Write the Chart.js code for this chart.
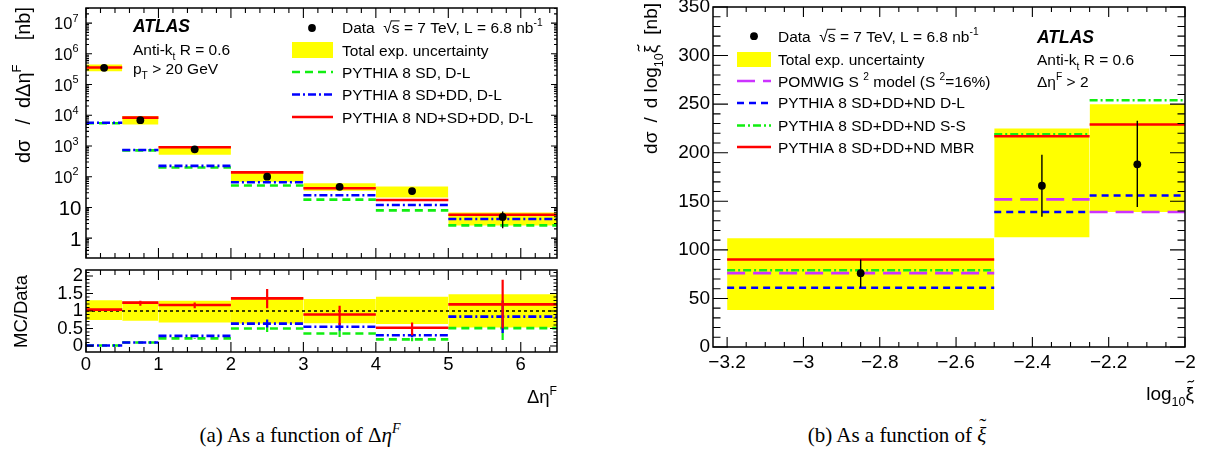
<!DOCTYPE html>
<html><head><meta charset="utf-8">
<script src="https://cdn.jsdelivr.net/npm/chart.js@4.4.1/dist/chart.umd.min.js"></script>
<style>
html,body{margin:0;padding:0;background:#fff}
body{width:1207px;height:458px;position:relative;overflow:hidden}
canvas{position:absolute}
.cap{position:absolute;top:423px;font-family:"Liberation Serif","DejaVu Serif",serif;font-size:21px;line-height:24px;white-space:nowrap;transform:translateX(-50%);color:#000}
.cap sup{font-size:14px;vertical-align:0;position:relative;top:-9px}
.tw{position:relative;display:inline-block}
.tl{position:absolute;left:2px;top:-9px;font-style:normal}
</style></head><body>
<canvas id="cA" width="600" height="262" style="left:0;top:0"></canvas>
<canvas id="cB" width="600" height="165" style="left:0;top:255px"></canvas>
<canvas id="cC" width="607" height="420" style="left:600px;top:-10px"></canvas>
<div class="cap" style="left:300px">(a) As a function of Δ<i>η</i><sup><i>F</i></sup></div>
<div class="cap" style="left:897px">(b) As a function of <span class="tw"><i>ξ</i><span class="tl">˜</span></span></div>
<script>
// ---------------- DATA ----------------
// (a) dσ/dΔη^F vs Δη^F
const etaBinEdges   = [0, 0.5, 1, 2, 3, 4, 5, 6.5];
const etaBinCenters = [0.25, 0.75, 1.5, 2.5, 3.5, 4.5, 5.75];
const etaData       = [3.5e5, 6.9e3, 780, 100, 47, 34, 4.9];
const etaDataLo     = [3.4e5, 6.7e3, 750, 88, 41, 29, 2.1];
const etaDataHi     = [3.6e5, 7.1e3, 810, 114, 54, 40, 7.4];
const etaUncLo      = [2.7e5, 5.0e3, 515, 68, 35, 21, 2.6];
const etaUncHi      = [4.5e5, 9.5e3, 1000, 140, 61, 48, 6.8];
const etaPythiaSD       = [5.5e3, 720, 200, 52, 18, 8, 2.6];
const etaPythiaSDDD     = [5.7e3, 740, 225, 66, 25, 12, 4.2];
const etaPythiaNDSDDD   = [3.6e5, 8.4e3, 910, 138, 42, 17.5, 5.8];
// ratio MC/Data
const ratioUncLo   = [0.74, 0.72, 0.67, 0.64, 0.65, 0.63, 0.53];
const ratioUncHi   = [1.31, 1.27, 1.29, 1.37, 1.34, 1.41, 1.48];
const ratioSD      = [0.015, 0.10, 0.22, 0.50, 0.36, 0.19, 0.51];
const ratioSDLo    = [0.015, 0.10, 0.21, 0.40, 0.26, 0.14, 0.17];
const ratioSDHi    = [0.015, 0.10, 0.23, 0.60, 0.46, 0.24, 0.85];
const ratioSDDD    = [0.016, 0.10, 0.29, 0.64, 0.55, 0.31, 0.84];
const ratioSDDDLo  = [0.016, 0.10, 0.28, 0.53, 0.44, 0.25, 0.37];
const ratioSDDDHi  = [0.016, 0.10, 0.30, 0.76, 0.66, 0.37, 1.30];
const ratioND      = [1.04, 1.24, 1.17, 1.36, 0.90, 0.52, 1.19];
const ratioNDLo    = [1.02, 1.15, 1.08, 1.08, 0.60, 0.31, 0.51];
const ratioNDHi    = [1.06, 1.29, 1.24, 1.63, 1.15, 0.67, 1.89];
const ratioRefLine = [1, 1];
// (b) dσ/dlog10ξ vs log10ξ
const xiBinEdges   = [-3.2, -2.5, -2.25, -2.0];
const xiBinCenters = [-2.85, -2.375, -2.125];
const xiData       = [76, 166, 188];
const xiDataLo     = [61, 134, 144];
const xiDataHi     = [90, 198, 233];
const xiUncLo      = [38, 113, 139];
const xiUncHi      = [112, 225, 250];
const xiPomwig     = [76, 152, 139];
const xiPythiaDL   = [61, 139, 156];
const xiPythiaSS   = [79, 219, 254];
const xiPythiaMBR  = [90, 217, 229];
// tick labels
const etaTickValues   = [0, 1, 2, 3, 4, 5, 6];
const etaTickLabels   = ['0', '1', '2', '3', '4', '5', '6'];
const logTickValues   = [1, 10, 1e2, 1e3, 1e4, 1e5, 1e6, 1e7];
const logTickLabels   = [['1', ''], ['10', ''], ['10', '2'], ['10', '3'], ['10', '4'], ['10', '5'], ['10', '6'], ['10', '7']];
const ratioTickValues = [0, 0.5, 1, 1.5, 2];
const ratioTickLabels = ['0', '0.5', '1', '1.5', '2'];
const xiTickValues    = [-3.2, -3, -2.8, -2.6, -2.4, -2.2, -2];
const xiTickLabels    = ['\u22123.2', '\u22123', '\u22122.8', '\u22122.6', '\u22122.4', '\u22122.2', '\u22122'];
const xiYTickValues   = [0, 50, 100, 150, 200, 250, 300, 350];
const xiYTickLabels   = ['0', '50', '100', '150', '200', '250', '300', '350'];

// ---------------- STYLES ----------------
const FAM = '"Liberation Sans", Arimo, Arial, Helvetica, sans-serif';
const YELLOW = '#ffff00';
const S_RED   = {color: '#ff0000', dash: [], width: 2.6};
const S_GREEN_DASH = {color: '#11ee11', dash: [8, 5], width: 2.6};
const S_BLUE_DDOT  = {color: '#0000ff', dash: [8, 3, 2, 3], width: 2.6};
const S_BLUE_DASH  = {color: '#0000ff', dash: [7, 5], width: 2.6};
const S_GREEN_DDOT = {color: '#11ee11', dash: [8, 3, 2, 3], width: 2.6};
const S_MAG   = {color: '#cc33ff', dash: [18, 8], width: 2.6};

function fnt(size, style) { return (style || 'normal') + ' ' + size + 'px ' + FAM; }

// ---------------- dataset builders ----------------
function hSegs(edges, vals) {
  const p = [];
  vals.forEach((v, i) => { p.push({x: edges[i], y: v}, {x: edges[i + 1], y: v}, {x: edges[i + 1], y: null}); });
  return p;
}
function vBars(xs, lo, hi) {
  const p = [];
  xs.forEach((x, i) => { p.push({x: x, y: lo[i]}, {x: x, y: hi[i]}, {x: x, y: null}); });
  return p;
}
function lineDS(data, st, order) {
  return {data: data, borderColor: st.color, borderDash: st.dash, borderWidth: st.width, pointRadius: 0,
          fill: false, order: order, spanGaps: false, borderCapStyle: 'butt'};
}
function addBand(list, edges, lo, hi, color) {
  for (let i = 0; i < lo.length; i++) {
    const idx = list.length;
    list.push({data: [{x: edges[i], y: lo[i]}, {x: edges[i + 1], y: lo[i]}], borderColor: 'rgba(0,0,0,0)',
               borderWidth: 1, pointRadius: 0, fill: false, order: 20});
    list.push({data: [{x: edges[i], y: hi[i]}, {x: edges[i + 1], y: hi[i]}], borderColor: 'rgba(0,0,0,0)',
               borderWidth: 1, pointRadius: 0, fill: {target: idx}, backgroundColor: color, order: 20});
  }
}
function pointsDS(xs, ys, order) {
  return {data: xs.map((x, i) => ({x: x, y: ys[i]})), showLine: false, pointRadius: 3.9,
          pointBackgroundColor: '#000', pointBorderColor: '#000', pointBorderWidth: 0, order: order};
}

// ---------------- drawing helpers ----------------
function drawRich(ctx, parts, x, y, size, align, style) {
  const items = parts.map(p => {
    const s = (p.sup || p.sub) ? size * 0.66 : size;
    const st = p.style || style || 'normal';
    ctx.font = fnt(s, st);
    return {p: p, s: s, st: st, tw: ctx.measureText(p.t).width, w: ctx.measureText(p.t).width + (p.gap || 0)};
  });
  const total = items.reduce((a, it) => a + it.w, 0);
  let cx = align === 'right' ? x - total : align === 'center' ? x - total / 2 : x;
  ctx.fillStyle = '#000'; ctx.strokeStyle = '#000';
  ctx.textAlign = 'left'; ctx.textBaseline = 'alphabetic';
  for (const it of items) {
    ctx.font = fnt(it.s, it.st);
    const dy = it.p.sup ? -size * 0.45 : it.p.sub ? size * 0.3 : 0;
    ctx.fillText(it.p.t, cx, y + dy);
    if (it.p.over) {
      ctx.lineWidth = 1; ctx.setLineDash([]);
      ctx.beginPath(); ctx.moveTo(cx - 1, y - size * 0.8); ctx.lineTo(cx + it.tw, y - size * 0.8); ctx.stroke();
    }
    if (it.p.tilde) {
      const tw = it.tw * 0.75, tx = cx + (it.tw - tw) / 2 + 1, ty = y - size * 0.98;
      ctx.lineWidth = 1.1; ctx.setLineDash([]);
      ctx.beginPath(); ctx.moveTo(tx, ty + 1.2);
      ctx.bezierCurveTo(tx + tw * 0.3, ty - 2.6, tx + tw * 0.6, ty + 3.2, tx + tw, ty - 1.2); ctx.stroke();
    }
    cx += it.w;
  }
}
function sample(ctx, x1, x2, y, st) {
  ctx.save(); ctx.strokeStyle = st.color; ctx.lineWidth = st.width; ctx.setLineDash(st.dash); ctx.lineCap = 'butt';
  ctx.beginPath(); ctx.moveTo(x1, y); ctx.lineTo(x2, y); ctx.stroke(); ctx.restore();
}
function frameTicks(chart, xt, yt) {
  const ctx = chart.ctx, a = chart.chartArea, sx = chart.scales.x, sy = chart.scales.y;
  ctx.save(); ctx.strokeStyle = '#000'; ctx.lineWidth = 1.1; ctx.setLineDash([]);
  ctx.beginPath();
  for (const t of xt) {
    const px = sx.getPixelForValue(t[0]);
    if (px < a.left - 0.6 || px > a.right + 0.6) continue;
    ctx.moveTo(px, a.bottom); ctx.lineTo(px, a.bottom - t[1]);
    ctx.moveTo(px, a.top); ctx.lineTo(px, a.top + t[1]);
  }
  for (const t of yt) {
    const py = sy.getPixelForValue(t[0]);
    if (py < a.top - 0.6 || py > a.bottom + 0.6) continue;
    ctx.moveTo(a.left, py); ctx.lineTo(a.left + t[1], py);
    ctx.moveTo(a.right, py); ctx.lineTo(a.right - t[1], py);
  }
  ctx.stroke();
  ctx.lineWidth = 1.5;
  ctx.strokeRect(a.left, a.top, a.right - a.left, a.bottom - a.top);
  ctx.restore();
}
function linTicks(from, to, step, majorEvery, lmaj, lmin) {
  const out = []; const n = Math.round((to - from) / step);
  for (let i = 0; i <= n; i++) out.push([from + i * step, i % majorEvery === 0 ? lmaj : lmin]);
  return out;
}
function logTicks(d0, d1, lmaj, lmin) {
  const out = [];
  for (let d = d0; d <= d1; d++) for (let k = 1; k <= 9; k++) out.push([k * Math.pow(10, d), k === 1 ? lmaj : lmin]);
  return out;
}
const baseOpts = {responsive: false, animation: false, events: [], devicePixelRatio: 1,
  plugins: {legend: {display: false}, tooltip: {enabled: false}}};
const hiddenGrid = {display: false, drawTicks: false};

// ---------------- (a) top panel ----------------
const dsA = [];
addBand(dsA, etaBinEdges, etaUncLo, etaUncHi, YELLOW);
dsA.push(lineDS(hSegs(etaBinEdges, etaPythiaSD), S_GREEN_DASH, 4));
dsA.push(lineDS(hSegs(etaBinEdges, etaPythiaSDDD), S_BLUE_DDOT, 3));
dsA.push(lineDS(hSegs(etaBinEdges, etaPythiaNDSDDD), S_RED, 2));
dsA.push(lineDS(vBars(etaBinCenters, etaDataLo, etaDataHi), {color: '#000', dash: [], width: 1.4}, 1));
dsA.push(pointsDS(etaBinCenters, etaData, 0));

const plugA = {id: 'pA', afterDraw(chart) {
  const ctx = chart.ctx, sy = chart.scales.y;
  frameTicks(chart, linTicks(0, 6.4, 0.2, 5, 10, 5), logTicks(-1, 7, 6, 3));
  // log tick labels
  logTickValues.forEach((v, i) => {
    const py = sy.getPixelForValue(v);
    const lab = logTickLabels[i];
    if (lab[1]) drawRich(ctx, [{t: lab[0]}, {t: lab[1], sup: true}], 78.5, py + 6, 16.5, 'right');
    else drawRich(ctx, [{t: lab[0]}], 81.5, py + 7.5, 20.5, 'right');
  });
  // y title
  ctx.save(); ctx.translate(30, 7); ctx.rotate(-Math.PI / 2);
  drawRich(ctx, [{t: 'd\u03c3', gap: 15}, {t: '/', gap: 11}, {t: 'd\u0394\u03b7'}, {t: 'F', sup: true, gap: 24}, {t: '[nb]'}], 0, 0, 20, 'right');
  ctx.restore();
  // annotations
  drawRich(ctx, [{t: 'ATLAS'}], 133, 31.5, 17.5, 'left', 'italic bold');
  drawRich(ctx, [{t: 'Anti-k'}, {t: 't', sub: true}, {t: ' R = 0.6'}], 133, 55, 15.5, 'left');
  drawRich(ctx, [{t: 'p'}, {t: 'T', sub: true}, {t: ' > 20 GeV'}], 133, 74, 15.5, 'left');
  // legend
  const lx = 342, sx1 = 292, sx2 = 333;
  ctx.save(); ctx.fillStyle = '#000'; ctx.beginPath(); ctx.arc(312, 28, 3.9, 0, 2 * Math.PI); ctx.fill(); ctx.restore();
  drawRich(ctx, [{t: 'Data  \u221a'}, {t: 's', over: true}, {t: ' = 7 TeV, L = 6.8 nb'}, {t: '-1', sup: true}], lx, 33.3, 15.5, 'left');
  ctx.fillStyle = YELLOW; ctx.fillRect(sx1, 42, sx2 - sx1, 16);
  drawRich(ctx, [{t: 'Total exp. uncertainty'}], lx, 56, 15.5, 'left');
  sample(ctx, sx1, sx2, 72, S_GREEN_DASH);
  drawRich(ctx, [{t: 'PYTHIA 8 SD, D-L'}], lx, 77.5, 15.5, 'left');
  sample(ctx, sx1, sx2, 94.5, S_BLUE_DDOT);
  drawRich(ctx, [{t: 'PYTHIA 8 SD+DD, D-L'}], lx, 100, 15.5, 'left');
  sample(ctx, sx1, sx2, 117, S_RED);
  drawRich(ctx, [{t: 'PYTHIA 8 ND+SD+DD, D-L'}], lx, 122.5, 15.5, 'left');
}};

new Chart(document.getElementById('cA'), {type: 'line', data: {datasets: dsA},
  options: Object.assign({}, baseOpts, {
    layout: {padding: {left: 86, top: 8, right: 43, bottom: 2}},
    scales: {
      x: {type: 'linear', min: 0, max: 6.5, display: false},
      y: {type: 'logarithmic', min: 0.226, max: 3.1e7, display: false}
    }}), plugins: [plugA]});

// ---------------- (a) ratio panel ----------------
const dsB = [];
addBand(dsB, etaBinEdges, ratioUncLo, ratioUncHi, YELLOW);
dsB.push(lineDS([{x: 0, y: ratioRefLine[0]}, {x: 6.5, y: ratioRefLine[1]}], {color: '#000', dash: [3, 3], width: 1.5}, 10));
dsB.push(lineDS(hSegs(etaBinEdges, ratioSD), S_GREEN_DASH, 6));
dsB.push(lineDS(vBars(etaBinCenters, ratioSDLo, ratioSDHi), {color: '#11ee11', dash: [], width: 2.2}, 6));
dsB.push(lineDS(hSegs(etaBinEdges, ratioSDDD), S_BLUE_DDOT, 4));
dsB.push(lineDS(vBars(etaBinCenters, ratioSDDDLo, ratioSDDDHi), {color: '#0000ff', dash: [], width: 2.2}, 4));
dsB.push(lineDS(hSegs(etaBinEdges, ratioND), S_RED, 2));
dsB.push(lineDS(vBars(etaBinCenters, ratioNDLo, ratioNDHi), {color: '#ff0000', dash: [], width: 2.2}, 2));

const plugB = {id: 'pB', afterDraw(chart) {
  const ctx = chart.ctx;
  frameTicks(chart, linTicks(0, 6.4, 0.2, 5, 10, 5), linTicks(0, 2.1, 0.1, 5, 7, 3.5));
  ctx.save(); ctx.translate(0, -255);
  ctx.save(); ctx.translate(27, 275); ctx.rotate(-Math.PI / 2);
  drawRich(ctx, [{t: 'MC/Data'}], 0, 0, 18.5, 'right');
  ctx.restore();
  drawRich(ctx, [{t: '\u0394\u03b7'}, {t: 'F', sup: true}], 557, 403, 18.5, 'right');
  ctx.restore();
}};
new Chart(document.getElementById('cB'), {type: 'line', data: {datasets: dsB},
  options: Object.assign({}, baseOpts, {
    layout: {padding: {left: 0, top: 15, right: 43, bottom: 0}},
    scales: {
      x: {type: 'linear', min: 0, max: 6.5, grid: hiddenGrid, border: {display: false},
          ticks: {font: {family: FAM, size: 18.5}, color: '#000', padding: 2, maxRotation: 0, autoSkip: false,
                  callback: (v, i) => etaTickLabels[i]},
          afterBuildTicks: s => { s.ticks = etaTickValues.map(v => ({value: v})); },
          afterFit: s => { s.height = 68; }},
      y: {type: 'linear', min: -0.17, max: 2.17, grid: hiddenGrid, border: {display: false},
          ticks: {font: {family: FAM, size: 18.5}, color: '#000', padding: 3, autoSkip: false,
                  callback: (v, i) => ratioTickLabels[i]},
          afterBuildTicks: s => { s.ticks = ratioTickValues.map(v => ({value: v})); },
          afterFit: s => { s.width = 86; }}
    }}), plugins: [plugB]});

// ---------------- (b) panel ----------------
const dsC = [];
addBand(dsC, xiBinEdges, xiUncLo, xiUncHi, YELLOW);
dsC.push(lineDS(hSegs(xiBinEdges, xiPythiaSS), S_GREEN_DDOT, 5));
dsC.push(lineDS(hSegs(xiBinEdges, xiPomwig), S_MAG, 4));
dsC.push(lineDS(hSegs(xiBinEdges, xiPythiaDL), S_BLUE_DASH, 3));
dsC.push(lineDS(hSegs(xiBinEdges, xiPythiaMBR), S_RED, 2));
dsC.push(lineDS(vBars(xiBinCenters, xiDataLo, xiDataHi), {color: '#000', dash: [], width: 1.4}, 1));
dsC.push(pointsDS(xiBinCenters, xiData, 0));

const plugC = {id: 'pC', afterDraw(chart) {
  const ctx = chart.ctx;
  frameTicks(chart, linTicks(-3.2, -2.0, 0.05, 4, 10, 5), linTicks(0, 350, 10, 5, 15, 7.5));
  ctx.save(); ctx.translate(-600, 10);
  // y title
  ctx.save(); ctx.translate(657, 3); ctx.rotate(-Math.PI / 2);
  drawRich(ctx, [{t: 'd\u03c3', gap: 9}, {t: '/', gap: 9}, {t: 'd log'}, {t: '10', sub: true}, {t: '\u03be', tilde: true, gap: 10}, {t: '[nb]'}], 0, 0, 19, 'right');
  ctx.restore();
  // x title
  drawRich(ctx, [{t: 'log'}, {t: '10', sub: true}, {t: '\u03be', tilde: true}], 1194, 400, 19, 'right');
  // annotations
  drawRich(ctx, [{t: 'ATLAS'}], 1037, 42.7, 17.5, 'left', 'italic bold');
  drawRich(ctx, [{t: 'Anti-k'}, {t: 't', sub: true}, {t: ' R = 0.6'}], 1037, 65, 15.5, 'left');
  drawRich(ctx, [{t: '\u0394\u03b7'}, {t: 'F', sup: true}, {t: ' > 2'}], 1037, 86.5, 15.5, 'left');
  // legend
  const lx = 778, sx1 = 737, sx2 = 771;
  ctx.save(); ctx.fillStyle = '#000'; ctx.beginPath(); ctx.arc(754, 36.2, 3.9, 0, 2 * Math.PI); ctx.fill(); ctx.restore();
  drawRich(ctx, [{t: 'Data  \u221a'}, {t: 's', over: true}, {t: ' = 7 TeV, L = 6.8 nb'}, {t: '-1', sup: true}], lx, 41.7, 15.5, 'left');
  ctx.fillStyle = YELLOW; ctx.fillRect(sx1, 52, sx2 - sx1, 15);
  drawRich(ctx, [{t: 'Total exp. uncertainty'}], lx, 65, 15.5, 'left');
  sample(ctx, sx1, sx2, 81, S_MAG);
  drawRich(ctx, [{t: 'POMWIG S '}, {t: '2', sup: true}, {t: ' model (S '}, {t: '2', sup: true}, {t: '=16%)'}], lx, 86.7, 15.5, 'left');
  sample(ctx, sx1, sx2, 103, S_BLUE_DASH);
  drawRich(ctx, [{t: 'PYTHIA 8 SD+DD+ND D-L'}], lx, 108.3, 15.5, 'left');
  sample(ctx, sx1, sx2, 125.5, S_GREEN_DDOT);
  drawRich(ctx, [{t: 'PYTHIA 8 SD+DD+ND S-S'}], lx, 131, 15.5, 'left');
  sample(ctx, sx1, sx2, 147, S_RED);
  drawRich(ctx, [{t: 'PYTHIA 8 SD+DD+ND MBR'}], lx, 152.7, 15.5, 'left');
  ctx.restore();
}};
new Chart(document.getElementById('cC'), {type: 'line', data: {datasets: dsC},
  options: Object.assign({}, baseOpts, {
    layout: {padding: {left: 0, top: 17, right: 22, bottom: 0}},
    scales: {
      x: {type: 'linear', min: -3.237, max: -2.0, grid: hiddenGrid, border: {display: false},
          ticks: {font: {family: FAM, size: 19}, color: '#000', padding: 4, maxRotation: 0, autoSkip: false,
                  callback: (v, i) => xiTickLabels[i]},
          afterBuildTicks: s => { s.ticks = xiTickValues.map(v => ({value: v})); },
          afterFit: s => { s.height = 63; }},
      y: {type: 'linear', min: 0, max: 350, grid: hiddenGrid, border: {display: false},
          ticks: {font: {family: FAM, size: 19}, color: '#000', padding: 3, autoSkip: false,
                  callback: (v, i) => xiYTickLabels[i]},
          afterBuildTicks: s => { s.ticks = xiYTickValues.map(v => ({value: v})); },
          afterFit: s => { s.width = 113; }}
    }}), plugins: [plugC]});
</script>
</body></html>
